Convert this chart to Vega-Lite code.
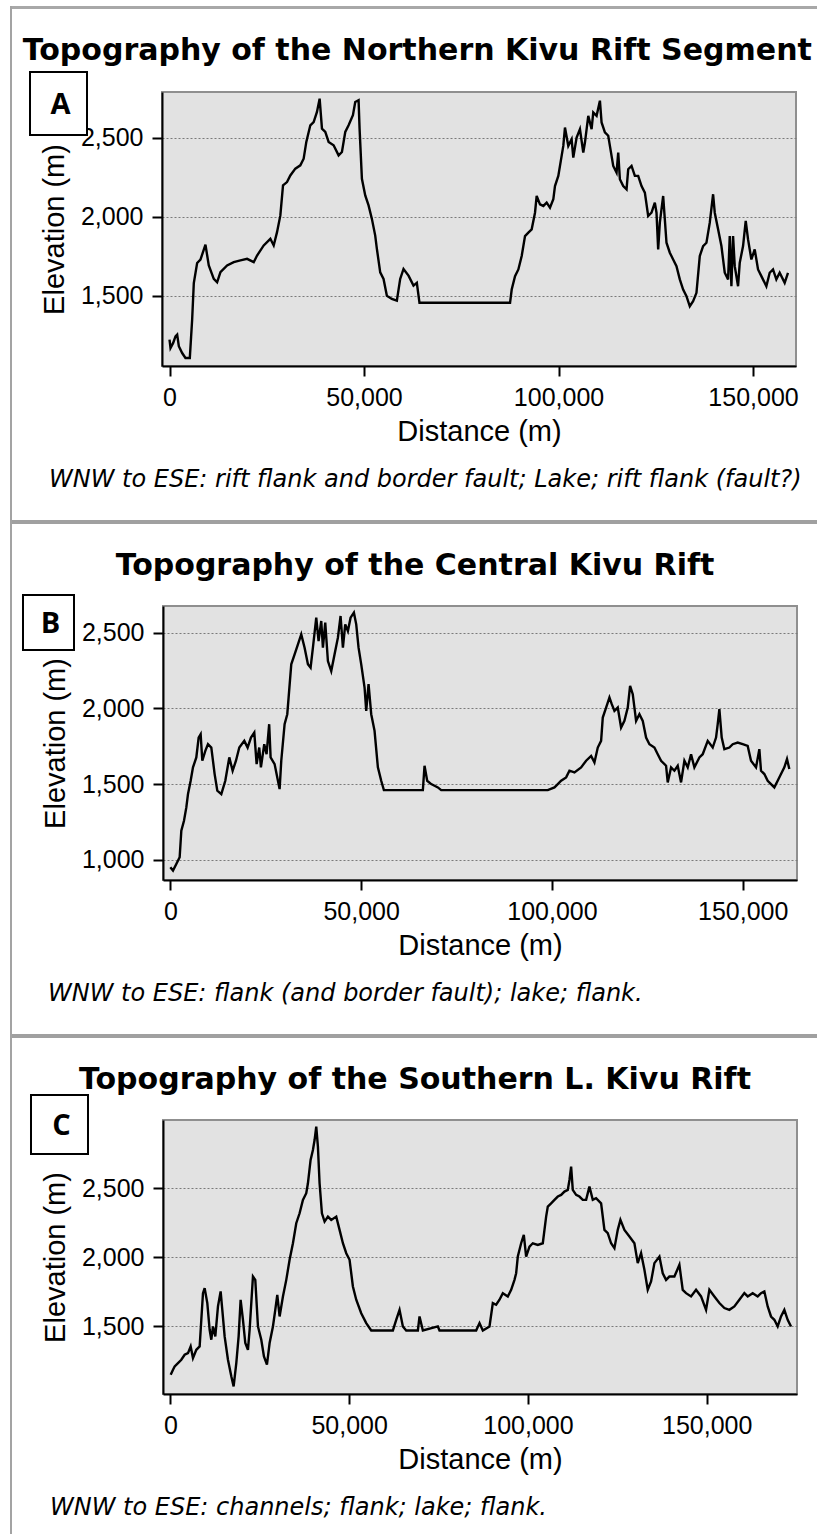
{
"$schema": "https://vega.github.io/schema/vega-lite/v6.json",
"padding": {"left": 10, "top": 6, "right": 0, "bottom": 0},
"background": "white",
"datasets": {
"north": [{"d":0,"e":1221},{"d":257,"e":1168},{"d":941,"e":1200},{"d":1540,"e":1242},{"d":1968,"e":1253},{"d":2396,"e":1179},{"d":3252,"e":1136},{"d":4107,"e":1105},{"d":5220,"e":1105},{"d":5819,"e":1347},{"d":6247,"e":1579},{"d":7102,"e":1706},{"d":7958,"e":1727},{"d":9242,"e":1822},{"d":10097,"e":1690},{"d":11381,"e":1605},{"d":12237,"e":1584},{"d":13092,"e":1648},{"d":14804,"e":1690},{"d":16515,"e":1711},{"d":18226,"e":1722},{"d":19938,"e":1732},{"d":21649,"e":1711},{"d":22505,"e":1753},{"d":24216,"e":1817},{"d":25928,"e":1859},{"d":26783,"e":1817},{"d":27639,"e":1901},{"d":28495,"e":2007},{"d":29179,"e":2197},{"d":30206,"e":2218},{"d":31062,"e":2260},{"d":32345,"e":2303},{"d":33629,"e":2324},{"d":34485,"e":2366},{"d":35169,"e":2472},{"d":36196,"e":2577},{"d":37052,"e":2598},{"d":37907,"e":2662},{"d":38592,"e":2746},{"d":39191,"e":2556},{"d":40047,"e":2535},{"d":40902,"e":2472},{"d":42186,"e":2451},{"d":43470,"e":2387},{"d":44325,"e":2408},{"d":45181,"e":2535},{"d":46037,"e":2577},{"d":47149,"e":2641},{"d":47748,"e":2725},{"d":48604,"e":2736},{"d":48860,"e":2556},{"d":49459,"e":2239},{"d":50315,"e":2133},{"d":51171,"e":2070},{"d":52026,"e":1985},{"d":52882,"e":1879},{"d":53310,"e":1795},{"d":54166,"e":1647},{"d":55021,"e":1605},{"d":55877,"e":1499},{"d":57161,"e":1478},{"d":58444,"e":1467},{"d":59300,"e":1605},{"d":60156,"e":1668},{"d":61439,"e":1626},{"d":62723,"e":1563},{"d":63578,"e":1580},{"d":64263,"e":1454},{"d":87539,"e":1454},{"d":87967,"e":1538},{"d":88823,"e":1623},{"d":89679,"e":1665},{"d":90534,"e":1750},{"d":91390,"e":1876},{"d":92246,"e":1898},{"d":93102,"e":1919},{"d":93957,"e":2024},{"d":94385,"e":2130},{"d":95241,"e":2077},{"d":96097,"e":2067},{"d":96952,"e":2088},{"d":97808,"e":2056},{"d":98664,"e":2109},{"d":99092,"e":2193},{"d":99947,"e":2257},{"d":100803,"e":2384},{"d":101231,"e":2447},{"d":101659,"e":2563},{"d":102514,"e":2447},{"d":103370,"e":2489},{"d":103798,"e":2373},{"d":104654,"e":2500},{"d":105510,"e":2553},{"d":106365,"e":2405},{"d":106793,"e":2468},{"d":107649,"e":2637},{"d":108505,"e":2553},{"d":108932,"e":2659},{"d":109788,"e":2637},{"d":110644,"e":2733},{"d":111072,"e":2595},{"d":111927,"e":2532},{"d":112783,"e":2511},{"d":113211,"e":2447},{"d":114067,"e":2320},{"d":114922,"e":2278},{"d":115350,"e":2405},{"d":115778,"e":2236},{"d":116634,"e":2193},{"d":117490,"e":2172},{"d":117917,"e":2299},{"d":118773,"e":2320},{"d":119629,"e":2257},{"d":120485,"e":2257},{"d":121340,"e":2193},{"d":122196,"e":2151},{"d":123052,"e":2003},{"d":123907,"e":2024},{"d":124763,"e":2088},{"d":125191,"e":2024},{"d":125619,"e":1792},{"d":126047,"e":1961},{"d":126902,"e":2130},{"d":127330,"e":1982},{"d":127758,"e":1834},{"d":128614,"e":1771},{"d":129470,"e":1728},{"d":130325,"e":1686},{"d":131181,"e":1602},{"d":132037,"e":1538},{"d":132893,"e":1496},{"d":133748,"e":1432},{"d":134604,"e":1464},{"d":135460,"e":1517},{"d":136316,"e":1750},{"d":137171,"e":1813},{"d":138027,"e":1834},{"d":138883,"e":1961},{"d":139739,"e":2141},{"d":140167,"e":2024},{"d":141022,"e":1919},{"d":141878,"e":1813},{"d":142734,"e":1644},{"d":143590,"e":1602},{"d":144017,"e":1876},{"d":144445,"e":1559},{"d":144873,"e":1876},{"d":145301,"e":1686},{"d":146157,"e":1559},{"d":146584,"e":1707},{"d":147440,"e":1813},{"d":148125,"e":1972},{"d":148724,"e":1855},{"d":149579,"e":1728},{"d":150435,"e":1792},{"d":151291,"e":1665},{"d":152146,"e":1623},{"d":153430,"e":1559},{"d":154286,"e":1644},{"d":155141,"e":1665},{"d":155997,"e":1602},{"d":156853,"e":1644},{"d":158137,"e":1580},{"d":158992,"e":1644}],
"central": [{"d":0,"e":952},{"d":698,"e":930},{"d":1572,"e":974},{"d":2445,"e":1018},{"d":2881,"e":1193},{"d":3580,"e":1259},{"d":4191,"e":1347},{"d":4627,"e":1435},{"d":5326,"e":1523},{"d":5937,"e":1611},{"d":6810,"e":1677},{"d":7421,"e":1808},{"d":7945,"e":1830},{"d":8382,"e":1655},{"d":9168,"e":1720},{"d":9866,"e":1764},{"d":10739,"e":1742},{"d":11612,"e":1567},{"d":12311,"e":1457},{"d":13358,"e":1435},{"d":14406,"e":1523},{"d":15455,"e":1677},{"d":16328,"e":1589},{"d":17201,"e":1655},{"d":18074,"e":1742},{"d":19383,"e":1786},{"d":20257,"e":1742},{"d":21130,"e":1808},{"d":22003,"e":1841},{"d":22614,"e":1633},{"d":23303,"e":1742},{"d":23740,"e":1611},{"d":24613,"e":1764},{"d":25223,"e":1698},{"d":25904,"e":1896},{"d":26280,"e":1677},{"d":27328,"e":1633},{"d":28201,"e":1523},{"d":28638,"e":1468},{"d":29074,"e":1655},{"d":29947,"e":1896},{"d":30646,"e":1962},{"d":30995,"e":2072},{"d":31694,"e":2291},{"d":32567,"e":2357},{"d":33440,"e":2423},{"d":34313,"e":2489},{"d":35186,"e":2401},{"d":36059,"e":2291},{"d":36758,"e":2269},{"d":37369,"e":2401},{"d":38242,"e":2599},{"d":38853,"e":2445},{"d":39551,"e":2577},{"d":39988,"e":2401},{"d":40599,"e":2566},{"d":41298,"e":2313},{"d":42171,"e":2247},{"d":43044,"e":2357},{"d":43917,"e":2467},{"d":44615,"e":2610},{"d":45227,"e":2401},{"d":45838,"e":2555},{"d":46536,"e":2511},{"d":47235,"e":2599},{"d":48108,"e":2632},{"d":48719,"e":2555},{"d":49330,"e":2401},{"d":50029,"e":2291},{"d":50902,"e":2138},{"d":51338,"e":1984},{"d":51949,"e":2160},{"d":52648,"e":1962},{"d":53521,"e":1852},{"d":54394,"e":1611},{"d":55267,"e":1523},{"d":55966,"e":1461},{"d":66181,"e":1461},{"d":66618,"e":1622},{"d":67316,"e":1523},{"d":68364,"e":1501},{"d":69237,"e":1490},{"d":70110,"e":1479},{"d":70983,"e":1461},{"d":98922,"e":1461},{"d":100668,"e":1479},{"d":101542,"e":1501},{"d":102415,"e":1523},{"d":103724,"e":1545},{"d":104597,"e":1589},{"d":105907,"e":1578},{"d":107653,"e":1611},{"d":108963,"e":1655},{"d":110273,"e":1687},{"d":111146,"e":1644},{"d":112019,"e":1742},{"d":112892,"e":1786},{"d":113328,"e":1940},{"d":114201,"e":2006},{"d":115075,"e":2072},{"d":115686,"e":2028},{"d":116384,"e":1984},{"d":117257,"e":2006},{"d":118130,"e":1874},{"d":119003,"e":1918},{"d":119877,"e":2006},{"d":120488,"e":2149},{"d":121186,"e":2094},{"d":122060,"e":1918},{"d":122933,"e":1962},{"d":123806,"e":1918},{"d":124679,"e":1808},{"d":125552,"e":1764},{"d":126861,"e":1742},{"d":127735,"e":1698},{"d":128608,"e":1655},{"d":129917,"e":1622},{"d":130354,"e":1512},{"d":131227,"e":1611},{"d":132100,"e":1589},{"d":132973,"e":1622},{"d":133846,"e":1512},{"d":134720,"e":1655},{"d":135593,"e":1611},{"d":136466,"e":1698},{"d":137339,"e":1611},{"d":138649,"e":1677},{"d":139522,"e":1698},{"d":140832,"e":1786},{"d":142141,"e":1742},{"d":143014,"e":1808},{"d":143450,"e":1896},{"d":143887,"e":1995},{"d":144498,"e":1808},{"d":145196,"e":1731},{"d":146506,"e":1742},{"d":147379,"e":1764},{"d":148688,"e":1775},{"d":149997,"e":1764},{"d":151307,"e":1753},{"d":152180,"e":1655},{"d":153490,"e":1611},{"d":154363,"e":1731},{"d":154800,"e":1589},{"d":155673,"e":1567},{"d":156546,"e":1523},{"d":157419,"e":1501},{"d":158292,"e":1479},{"d":159166,"e":1523},{"d":160039,"e":1567},{"d":160912,"e":1611},{"d":161610,"e":1666},{"d":162222,"e":1600}],
"south": [{"d":100,"e":1150},{"d":745,"e":1187},{"d":1211,"e":1211},{"d":2143,"e":1235},{"d":3075,"e":1259},{"d":4006,"e":1295},{"d":4938,"e":1307},{"d":5683,"e":1355},{"d":6336,"e":1271},{"d":7267,"e":1331},{"d":8199,"e":1355},{"d":8665,"e":1548},{"d":9131,"e":1741},{"d":9597,"e":1777},{"d":10342,"e":1669},{"d":10994,"e":1476},{"d":11460,"e":1404},{"d":11926,"e":1500},{"d":12578,"e":1428},{"d":13323,"e":1645},{"d":14069,"e":1753},{"d":14535,"e":1620},{"d":15187,"e":1428},{"d":16118,"e":1259},{"d":17050,"e":1139},{"d":17702,"e":1066},{"d":18448,"e":1235},{"d":19100,"e":1428},{"d":19659,"e":1693},{"d":20311,"e":1548},{"d":20963,"e":1380},{"d":21709,"e":1331},{"d":22174,"e":1476},{"d":23106,"e":1861},{"d":23758,"e":1837},{"d":24504,"e":1500},{"d":25435,"e":1404},{"d":26181,"e":1283},{"d":27019,"e":1223},{"d":27765,"e":1380},{"d":28696,"e":1500},{"d":29349,"e":1620},{"d":29908,"e":1729},{"d":30560,"e":1572},{"d":31491,"e":1717},{"d":32423,"e":1837},{"d":33355,"e":1982},{"d":34287,"e":2102},{"d":35218,"e":2247},{"d":36150,"e":2319},{"d":37082,"e":2416},{"d":38013,"e":2464},{"d":38479,"e":2536},{"d":39225,"e":2705},{"d":39877,"e":2777},{"d":40343,"e":2849},{"d":40808,"e":2946},{"d":41274,"e":2801},{"d":41740,"e":2536},{"d":42392,"e":2319},{"d":43138,"e":2259},{"d":44069,"e":2295},{"d":45001,"e":2271},{"d":46399,"e":2295},{"d":47330,"e":2199},{"d":48262,"e":2102},{"d":49194,"e":2030},{"d":50125,"e":1982},{"d":51057,"e":1789},{"d":51989,"e":1693},{"d":53386,"e":1596},{"d":54784,"e":1524},{"d":56182,"e":1471},{"d":62238,"e":1471},{"d":63169,"e":1548},{"d":64101,"e":1620},{"d":65033,"e":1500},{"d":65964,"e":1471},{"d":69225,"e":1471},{"d":69691,"e":1572},{"d":70623,"e":1471},{"d":74815,"e":1500},{"d":75281,"e":1471},{"d":85530,"e":1471},{"d":86462,"e":1524},{"d":87393,"e":1471},{"d":89257,"e":1500},{"d":90189,"e":1669},{"d":91120,"e":1657},{"d":92052,"e":1693},{"d":92984,"e":1741},{"d":94381,"e":1717},{"d":95313,"e":1765},{"d":96245,"e":1837},{"d":96710,"e":1885},{"d":97176,"e":2006},{"d":98108,"e":2102},{"d":98853,"e":2162},{"d":99506,"e":2006},{"d":100437,"e":2078},{"d":101369,"e":2102},{"d":102767,"e":2090},{"d":104164,"e":2102},{"d":105096,"e":2295},{"d":105562,"e":2367},{"d":106493,"e":2391},{"d":107425,"e":2416},{"d":108357,"e":2440},{"d":109288,"e":2452},{"d":110220,"e":2476},{"d":111152,"e":2488},{"d":111618,"e":2560},{"d":112084,"e":2657},{"d":112549,"e":2488},{"d":113481,"e":2452},{"d":114413,"e":2440},{"d":115344,"e":2416},{"d":116276,"e":2416},{"d":117208,"e":2512},{"d":118140,"e":2416},{"d":119071,"e":2428},{"d":120469,"e":2391},{"d":121401,"e":2199},{"d":122332,"e":2175},{"d":123264,"e":2102},{"d":124196,"e":2066},{"d":125128,"e":2199},{"d":125873,"e":2271},{"d":126991,"e":2199},{"d":128388,"e":2151},{"d":129786,"e":2102},{"d":130718,"e":1958},{"d":131649,"e":2030},{"d":132581,"e":1910},{"d":133513,"e":1765},{"d":134445,"e":1825},{"d":135376,"e":1958},{"d":136774,"e":2006},{"d":137706,"e":1885},{"d":138637,"e":1837},{"d":139569,"e":1861},{"d":140966,"e":1861},{"d":142364,"e":1946},{"d":143296,"e":1765},{"d":144227,"e":1741},{"d":145625,"e":1717},{"d":147022,"e":1765},{"d":148420,"e":1717},{"d":149818,"e":1620},{"d":150749,"e":1765},{"d":152147,"e":1717},{"d":153545,"e":1669},{"d":154942,"e":1633},{"d":156340,"e":1620},{"d":157738,"e":1645},{"d":159135,"e":1693},{"d":160533,"e":1741},{"d":161466,"e":1717},{"d":162863,"e":1741},{"d":164261,"e":1717},{"d":165192,"e":1741},{"d":166124,"e":1753},{"d":167056,"e":1645},{"d":167988,"e":1572},{"d":168919,"e":1548},{"d":169851,"e":1500},{"d":170783,"e":1572},{"d":171715,"e":1620},{"d":172646,"e":1548},{"d":173578,"e":1500}]
},
"config": {
  "view": {"fill": "#e2e2e2", "stroke": "#8f8f8f", "strokeWidth": 2},
  "axis": {"labelFont": "Liberation Sans", "labelFontSize": 25, "labelColor": "#000", "titleFont": "Liberation Sans", "titleFontSize": 29, "titleFontWeight": "normal", "titleColor": "#000", "domainColor": "#000", "domainWidth": 2, "tickColor": "#000", "tickWidth": 2, "tickSize": 10, "labelFlush": false, "labelOverlap": false},
  "axisX": {"grid": false, "labelPadding": 9, "titlePadding": 7},
  "axisY": {"grid": true, "gridColor": "#7a7a7a", "gridDash": [2, 2], "gridWidth": 1, "labelPadding": 9, "titlePadding": 11}
},
"spacing": 0,
"hconcat": [
  {"width": 2, "height": 1528, "view": {"fill": "#a3a3a3", "stroke": null}, "data": {"values": []}, "mark": "rect", "encoding": {}},
  {"spacing": 27, "vconcat": [
    {"width": 806, "height": 3, "view": {"fill": "#a8a8a8", "stroke": null}, "data": {"values": []}, "mark": "rect", "encoding": {}},
    {"spacing": 0,
     "title": {"text": "Topography of the Northern Kivu Rift Segment", "font": "DejaVu Sans", "fontSize": 30, "fontWeight": "bold", "color": "#000", "anchor": "middle", "frame": "bounds", "dx": 10, "offset": 1},
     "hconcat": [
      {"width": 13, "height": 1, "view": {"fill": null, "stroke": null}, "data": {"values": []}, "mark": "rect", "encoding": {}},
      {"width": 634, "height": 274,
       "title": {"text": "WNW to ESE: rift flank and border fault; Lake; rift flank (fault?)", "orient": "bottom", "anchor": "start", "frame": "group", "dx": -113, "offset": 22, "font": "DejaVu Sans", "fontSize": 24, "fontStyle": "italic", "fontWeight": "normal", "color": "#000"},
       "layer": [
        {"data": {"name": "north"}, "mark": {"type": "line", "color": "#000", "strokeWidth": 2.4, "clip": true},
         "encoding": {
          "x": {"field": "d", "type": "quantitative", "title": "Distance (m)", "scale": {"domain": [-1930, 161050], "nice": false, "zero": false}, "axis": {"values": [0, 50000, 100000, 150000], "format": ",d"}},
          "y": {"field": "e", "type": "quantitative", "title": "Elevation (m)", "scale": {"domain": [1054, 2788], "nice": false, "zero": false}, "axis": {"values": [1500, 2000, 2500], "format": ",d"}}}},
        {"data": {"values": [{"label": "A"}]}, "mark": {"type": "point", "shape": "M-1,-1.105H1V1.105H-1Z", "size": 3249, "filled": true, "fill": "#fff", "stroke": "#000", "strokeWidth": 2, "opacity": 1},
         "encoding": {"x": {"datum": -28535, "type": "quantitative", "title": "Distance (m)"}, "y": {"datum": 2715, "type": "quantitative", "title": "Elevation (m)"}}},
        {"data": {"values": [{"label": "A"}]}, "mark": {"type": "text", "font": "Open Sans", "fontSize": 29, "fontWeight": "bold", "color": "#000", "baseline": "middle", "align": "center", "dx": 2, "dy": 1},
         "encoding": {"x": {"datum": -28535, "type": "quantitative", "title": "Distance (m)"}, "y": {"datum": 2715, "type": "quantitative", "title": "Elevation (m)"}, "text": {"field": "label"}}}
       ]}
     ]},
    {"width": 806, "height": 4, "view": {"fill": "#a0a0a0", "stroke": null}, "data": {"values": []}, "mark": "rect", "encoding": {}},
    {"spacing": 0,
     "title": {"text": "Topography of the Central Kivu Rift", "font": "DejaVu Sans", "fontSize": 30, "fontWeight": "bold", "color": "#000", "anchor": "middle", "frame": "bounds", "dx": 10, "offset": 9},
     "hconcat": [
      {"width": 5, "height": 1, "view": {"fill": null, "stroke": null}, "data": {"values": []}, "mark": "rect", "encoding": {}},
      {"width": 634, "height": 274,
       "title": {"text": "WNW to ESE: flank (and border fault); lake; flank.", "orient": "bottom", "anchor": "start", "frame": "group", "dx": -115, "offset": 22, "font": "DejaVu Sans", "fontSize": 24, "fontStyle": "italic", "fontWeight": "normal", "color": "#000"},
       "layer": [
        {"data": {"name": "central"}, "mark": {"type": "line", "color": "#000", "strokeWidth": 2.4, "clip": true},
         "encoding": {
          "x": {"field": "d", "type": "quantitative", "title": "Distance (m)", "scale": {"domain": [-1921, 164230], "nice": false, "zero": false}, "axis": {"values": [0, 50000, 100000, 150000], "format": ",d"}},
          "y": {"field": "e", "type": "quantitative", "title": "Elevation (m)", "scale": {"domain": [868, 2676], "nice": false, "zero": false}, "axis": {"values": [1000, 1500, 2000, 2500], "format": ",d"}}}},
        {"data": {"values": [{"label": "B"}]}, "mark": {"type": "point", "shape": "M-1,-1.078H1V1.078H-1Z", "size": 2601, "filled": true, "fill": "#fff", "stroke": "#000", "strokeWidth": 2, "opacity": 1},
         "encoding": {"x": {"datum": -31928, "type": "quantitative", "title": "Distance (m)"}, "y": {"datum": 2567, "type": "quantitative", "title": "Elevation (m)"}}},
        {"data": {"values": [{"label": "B"}]}, "mark": {"type": "text", "font": "Open Sans", "fontSize": 29, "fontWeight": "bold", "color": "#000", "baseline": "middle", "align": "center", "dx": 2, "dy": 1},
         "encoding": {"x": {"datum": -31928, "type": "quantitative", "title": "Distance (m)"}, "y": {"datum": 2567, "type": "quantitative", "title": "Elevation (m)"}, "text": {"field": "label"}}}
       ]}
     ]},
    {"width": 806, "height": 4, "view": {"fill": "#a0a0a0", "stroke": null}, "data": {"values": []}, "mark": "rect", "encoding": {}},
    {"spacing": 0,
     "title": {"text": "Topography of the Southern L. Kivu Rift", "font": "DejaVu Sans", "fontSize": 30, "fontWeight": "bold", "color": "#000", "anchor": "middle", "frame": "bounds", "dx": 10, "offset": -5},
     "hconcat": [
      {"width": 13, "height": 1, "view": {"fill": null, "stroke": null}, "data": {"values": []}, "mark": "rect", "encoding": {}},
      {"width": 634, "height": 274,
       "title": {"text": "WNW to ESE: channels; flank; lake; flank.", "orient": "bottom", "anchor": "start", "frame": "group", "dx": -113, "offset": 22, "font": "DejaVu Sans", "fontSize": 24, "fontStyle": "italic", "fontWeight": "normal", "color": "#000"},
       "layer": [
        {"data": {"name": "south"}, "mark": {"type": "line", "color": "#000", "strokeWidth": 2.4, "clip": true},
         "encoding": {
          "x": {"field": "d", "type": "quantitative", "title": "Distance (m)", "scale": {"domain": [-2050, 175253], "nice": false, "zero": false}, "axis": {"values": [0, 50000, 100000, 150000], "format": ",d"}},
          "y": {"field": "e", "type": "quantitative", "title": "Elevation (m)", "scale": {"domain": [1011, 2994], "nice": false, "zero": false}, "axis": {"values": [1500, 2000, 2500], "format": ",d"}}}},
        {"data": {"values": [{"label": "C"}]}, "mark": {"type": "point", "shape": "M-1,-1.035H1V1.035H-1Z", "size": 3249, "filled": true, "fill": "#fff", "stroke": "#000", "strokeWidth": 2, "opacity": 1},
         "encoding": {"x": {"datum": -30995, "type": "quantitative", "title": "Distance (m)"}, "y": {"datum": 2961, "type": "quantitative", "title": "Elevation (m)"}}},
        {"data": {"values": [{"label": "C"}]}, "mark": {"type": "text", "font": "Open Sans", "fontSize": 29, "fontWeight": "bold", "color": "#000", "baseline": "middle", "align": "center", "dx": 2, "dy": 1},
         "encoding": {"x": {"datum": -30995, "type": "quantitative", "title": "Distance (m)"}, "y": {"datum": 2961, "type": "quantitative", "title": "Elevation (m)"}, "text": {"field": "label"}}}
       ]}
     ]}
  ]}
]
}
